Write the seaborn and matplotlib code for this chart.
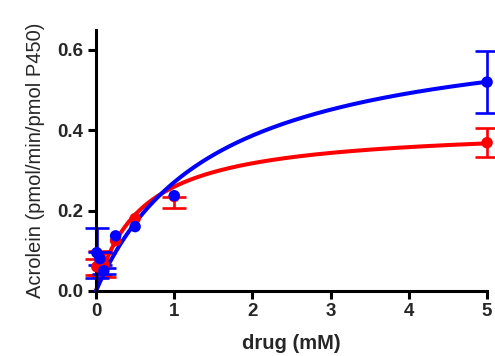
import numpy as np
import pandas as pd
import matplotlib
matplotlib.use("Agg")
import matplotlib.pyplot as plt
import seaborn as sns

# drug concentrations (mM) and measured acrolein formation
conc = [0.01, 0.05, 0.1, 0.25, 0.5, 1, 5]
red_mean = [0.06, 0.07, 0.065, 0.125, 0.18, 0.235, 0.369]
red_err_low = [0.02, 0.03, 0.03, 0.0, 0.0, 0.028, 0.036]
red_err_high = [0.02, 0.03, 0.03, 0.0, 0.0, 0.0, 0.036]
blue_mean = [0.095, 0.08, 0.05, 0.137, 0.16, 0.237, 0.52]
blue_err_low = [0.062, 0.016, 0.008, 0.0, 0.0, 0.0, 0.078]
blue_err_high = [0.062, 0.016, 0.008, 0.0, 0.0, 0.0, 0.078]

# Michaelis-Menten fit parameters (Vmax, Km)
red_fit = (0.41, 0.58)
blue_fit = (0.677, 1.5)

x_ticks = [0, 1, 2, 3, 4, 5]
y_ticks = [0.0, 0.2, 0.4, 0.6]

RED = "#FF0000"
BLUE = "#0000FF"

sns.set_theme(style="ticks")
plt.rcParams["font.family"] = ["Liberation Sans", "DejaVu Sans"]

fig = plt.figure(figsize=(4.95, 3.56), dpi=100)
ax = fig.add_axes([0.194, 0.183, 0.790, 0.733])

xs = np.linspace(0, 5, 300)
series = [
    (red_mean, red_err_low, red_err_high, red_fit, RED),
    (blue_mean, blue_err_low, blue_err_high, blue_fit, BLUE),
]
for mean, lo, hi, (vmax, km), color in series:
    curve = pd.DataFrame({"x": xs, "y": vmax * xs / (km + xs)})
    sns.lineplot(data=curve, x="x", y="y", ax=ax, color=color, lw=2.9, clip_on=False)
    # skip points with no visible error bar so no stray caps are drawn
    keep = [i for i in range(len(conc)) if lo[i] > 0 or hi[i] > 0]
    ax.errorbar([conc[i] for i in keep], [mean[i] for i in keep],
                yerr=[[lo[i] for i in keep], [hi[i] for i in keep]],
                fmt="none", ecolor=color, elinewidth=1.9,
                capsize=8.5, capthick=1.9, clip_on=False)
    pts = pd.DataFrame({"x": conc, "y": mean})
    sns.scatterplot(data=pts, x="x", y="y", ax=ax, color=color, s=68,
                    edgecolor="none", clip_on=False, zorder=3)

ax.set_xlim(0, 5)
ax.set_ylim(0, 0.65)
ax.set_xticks(x_ticks)
ax.set_yticks(y_ticks)
ax.set_yticklabels([f"{v:.1f}" for v in y_ticks])
ax.set_xlabel("drug (mM)", fontsize=14.5, fontweight="bold", labelpad=10)
ax.set_ylabel("Acrolein (pmol/min/pmol P450)", fontsize=14.5, labelpad=9)

sns.despine(ax=ax)
for side in ("left", "bottom"):
    ax.spines[side].set_linewidth(2.2)
    ax.spines[side].set_color("black")
ax.tick_params(width=2.2, length=6, color="black", labelsize=13.5, pad=3)
for lbl in ax.get_xticklabels() + ax.get_yticklabels():
    lbl.set_fontweight("bold")

fig.savefig("out.png", dpi=100)
